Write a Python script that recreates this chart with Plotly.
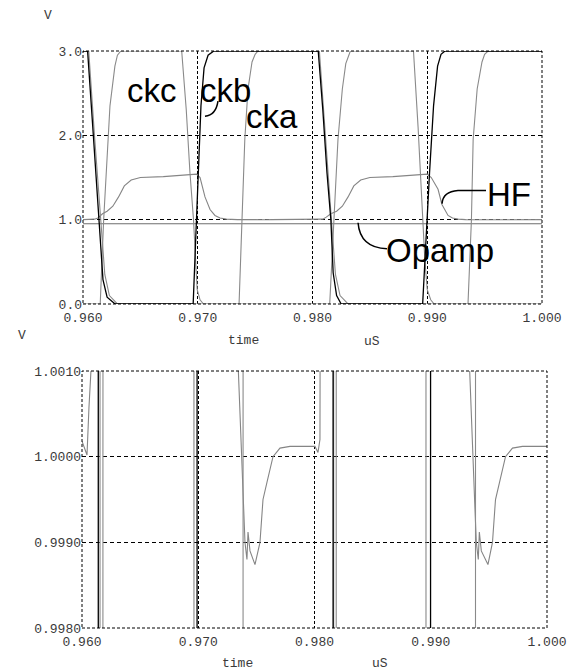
import plotly.graph_objects as go

# ---------------- data ----------------
x_ticks = [0.960, 0.970, 0.980, 0.990, 1.000]
x_tick_text = ["0.960", "0.970", "0.980", "0.990", "1.000"]
y1_ticks = [0.0, 1.0, 2.0, 3.0]
y1_tick_text = ["0.0", "1.0", "2.0", "3.0"]
y2_ticks = [0.998, 0.999, 1.000, 1.001]
y2_tick_text = ["0.9980", "0.9990", "1.0000", "1.0010"]

t_ckb = [0.9600, 0.9604, 0.9609, 0.9614, 0.96174, 0.9621, 0.9628,
         0.9696, 0.9699, 0.9700, 0.97028, 0.97055, 0.9709, 0.9714,
         0.9805, 0.9809, 0.98126, 0.9816, 0.9818, 0.9821, 0.9825,
         0.9896, 0.98995, 0.9902, 0.99055, 0.9909, 0.9912, 0.99155, 1.0000]
v_ckb = [3.0, 3.0, 2.0, 1.0, 0.29, 0.08, 0.0,
         0.0, 1.0, 1.55, 2.35, 2.8, 2.95, 3.0,
         3.0, 2.3, 1.56, 1.0, 0.37, 0.1, 0.0,
         0.0, 1.0, 1.56, 2.35, 2.82, 2.96, 3.0, 3.0]

t_ckc = [0.9600, 0.9615, 0.9618, 0.9620, 0.96235, 0.96278, 0.9630, 0.9633,
         0.9686, 0.9690, 0.96932, 0.96963, 0.9698, 0.96995, 0.9702, 0.9705,
         0.9815, 0.98185, 0.98222, 0.9826, 0.9829, 0.9833,
         0.9888, 0.9892, 0.98959, 0.9898, 0.9900, 0.9903, 0.9906, 1.0000]
v_ckc = [0.0, 0.0, 1.0, 1.55, 2.35, 2.82, 2.95, 3.0,
         3.0, 2.3, 1.56, 1.0, 0.5, 0.17, 0.05, 0.0,
         0.0, 1.0, 1.95, 2.55, 2.85, 3.0,
         3.0, 2.1, 1.0, 0.5, 0.17, 0.05, 0.0, 0.0]

t_cka = [0.9600, 0.9605, 0.9610, 0.96155, 0.9619, 0.9623, 0.9630,
         0.9736, 0.97385, 0.9741, 0.97438, 0.97473, 0.9750, 0.97525,
         0.9806, 0.9811, 0.98165, 0.9820, 0.9824, 0.9831,
         0.99355, 0.99385, 0.9940, 0.99435, 0.99477, 0.9950, 0.9953, 1.0000]
v_cka = [3.0, 3.0, 2.0, 1.0, 0.35, 0.1, 0.0,
         0.0, 1.0, 1.95, 2.55, 2.87, 2.96, 3.0,
         3.0, 2.0, 1.0, 0.35, 0.1, 0.0,
         0.0, 1.0, 1.95, 2.55, 2.87, 2.96, 3.0, 3.0]

t_hf = [0.9600, 0.96043, 0.9606, 0.96077, 0.9610, 0.9613, 0.9617, 0.9621,
        0.9626, 0.9631, 0.9636, 0.9642, 0.9650, 0.9670, 0.9690, 0.9699,
        0.9702, 0.97063, 0.97107, 0.9715, 0.97194, 0.9725, 0.97345, 0.97372,
        0.97388, 0.97402, 0.97419, 0.97428, 0.97445, 0.97488, 0.97531, 0.97557,
        0.97591, 0.97643, 0.97703, 0.97789, 0.98004, 0.9803, 0.98047, 0.98065,
        0.9809, 0.9812, 0.9816, 0.9821, 0.9826, 0.9831, 0.9836, 0.9842,
        0.9850, 0.9870, 0.9890, 0.9900, 0.99035, 0.99094, 0.99128, 0.99181,
        0.9922, 0.9927, 0.99335, 0.9936, 0.99378, 0.99392, 0.99409, 0.99418,
        0.99435, 0.99492, 0.99531, 0.99557, 0.99591, 0.99643, 0.99703, 0.99789,
        1.0000]
v_hf = [1.00018, 1.00002, 1.00058, 1.0010, 1.006, 1.02, 1.07, 1.10,
        1.16, 1.27, 1.40, 1.47, 1.50, 1.51, 1.53, 1.54,
        1.50, 1.27, 1.12, 1.05, 1.02, 1.007, 1.001, 1.0000,
        0.99947, 0.9990, 0.9988, 0.99912, 0.9989, 0.99874, 0.9990, 0.9995,
        0.9997, 1.0000, 1.0001, 1.00012, 1.00012, 1.00005, 1.0002, 1.0010,
        1.006, 1.03, 1.07, 1.10, 1.16, 1.27, 1.40, 1.47,
        1.50, 1.51, 1.53, 1.54, 1.50, 1.36, 1.18, 1.05,
        1.02, 1.007, 1.001, 1.0000, 0.99947, 0.9990, 0.9988, 0.99912,
        0.9989, 0.99874, 0.9990, 0.9995, 0.9997, 1.0000, 1.0001, 1.00012,
        1.00012]

t_opamp = [0.9600, 1.0000]
v_opamp = [0.952, 0.952]

labels = ["ckc", "ckb", "cka", "HF", "Opamp"]
label_t = [0.96601, 0.97246, 0.97647, 0.99712, 0.99111]
label_v = [2.536, 2.536, 2.226, 1.298, 0.631]

# ---------------- figure ----------------
series = [
    ("Opamp", t_opamp, v_opamp, "#6e6e6e", 1.1),
    ("HF", t_hf, v_hf, "#858585", 1.1),
    ("cka", t_cka, v_cka, "#8a8a8a", 1.1),
    ("ckc", t_ckc, v_ckc, "#8a8a8a", 1.1),
    ("ckb", t_ckb, v_ckb, "#000000", 1.3),
]

fig = go.Figure()
for xa, ya in (("x", "y"), ("x2", "y2")):
    for name, t, v, col, w in series:
        fig.add_trace(go.Scatter(x=t, y=v, mode="lines", name=name,
                                 line=dict(color=col, width=w),
                                 xaxis=xa, yaxis=ya, showlegend=False,
                                 hoverinfo="skip"))

W, H = 573, 671
tickfont = dict(family="Liberation Mono, DejaVu Sans Mono, monospace", size=13, color="#3a3a3a")

def xax(domain, anchor):
    return dict(domain=domain, anchor=anchor, range=[0.960, 1.000],
                tickvals=x_ticks, ticktext=x_tick_text, ticks="",
                showgrid=True, gridcolor="#000000", gridwidth=1, griddash="3px,2px",
                zeroline=False, showline=False, tickfont=tickfont, fixedrange=True,
                automargin=False, ticklabelstandoff=4)

def yax(domain, anchor, rng, tv, tt):
    return dict(domain=domain, anchor=anchor, range=rng,
                tickvals=tv, ticktext=tt, ticks="",
                showgrid=True, gridcolor="#000000", gridwidth=1, griddash="4px,3px",
                zeroline=False, showline=False, tickfont=tickfont, fixedrange=True,
                automargin=False)

fig.update_layout(
    width=W, height=H,
    margin=dict(l=0, r=0, t=0, b=0, autoexpand=False),
    paper_bgcolor="white", plot_bgcolor="white",
    xaxis=xax([83 / W, 542 / W], "y"),
    yaxis=yax([1 - 304 / H, 1 - 51 / H], "x", [0.0, 3.0], y1_ticks, y1_tick_text),
    xaxis2=xax([82 / W, 547 / W], "y2"),
    yaxis2=yax([1 - 628 / H, 1 - 371 / H], "x2", [0.998, 1.001], y2_ticks, y2_tick_text),
)

# dashed frames around both plot areas
for xr, yr in (("x domain", "y domain"), ("x2 domain", "y2 domain")):
    fig.add_shape(type="rect", xref=xr, yref=yr, x0=0, x1=1, y0=0, y1=1,
                  line=dict(color="#000000", width=1, dash="3px,2px"))

# axis captions
small = dict(family="Liberation Mono, DejaVu Sans Mono, monospace", size=13, color="#3a3a3a")
for txt, px, py in (("V", 48, 15), ("time", 243, 340), ("uS", 372, 341),
                    ("V", 22, 335), ("time", 237, 663), ("uS", 380, 663)):
    fig.add_annotation(text=txt, x=px / W, y=1 - py / H, xref="paper", yref="paper",
                       showarrow=False, xanchor="center", yanchor="middle", font=small)

# curve labels
big = dict(family="Liberation Sans, Arial, sans-serif", size=33, color="#000000")
for txt, t, v in zip(labels, label_t, label_v):
    fig.add_annotation(text=txt, x=t, y=v, xref="x", yref="y", showarrow=False,
                       xanchor="center", yanchor="middle", font=big)

# pointer strokes from labels to curves
pointers = [
    "M 0.97176,2.405 Q 0.97159,2.238 0.97063,2.226",
    "M 0.99512,1.345 L 0.99268,1.345 Q 0.99137,1.333 0.99129,1.19",
    "M 0.98649,0.655 Q 0.98414,0.667 0.98397,0.964",
]
for p in pointers:
    fig.add_shape(type="path", path=p, xref="x", yref="y",
                  line=dict(color="#000000", width=1.5))

fig.write_html("out.html", config={"displayModeBar": False},
               post_script="document.body.style.margin='0';document.body.style.padding='0';")
